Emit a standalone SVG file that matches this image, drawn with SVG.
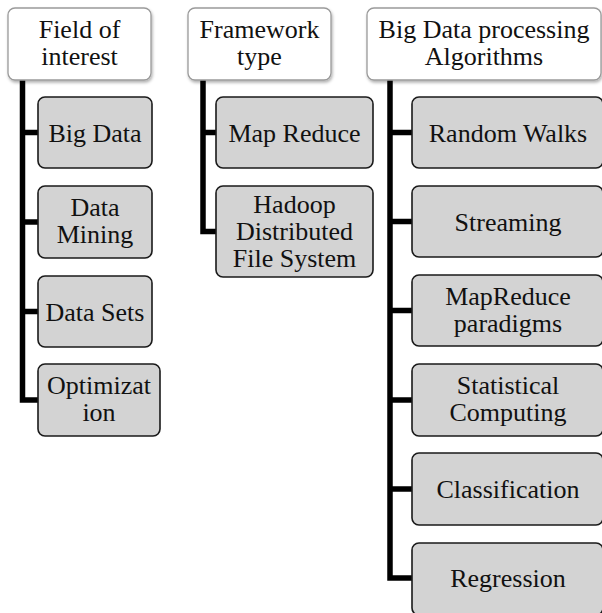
<svg xmlns="http://www.w3.org/2000/svg" width="602" height="613" viewBox="0 0 602 613">
  <style>
    .hdr { fill: #ffffff; stroke: #9a9a9a; stroke-width: 1.3; filter: url(#sh); }
    .box { fill: #d3d3d3; stroke: #1a1a1a; stroke-width: 1.6; }
    text { font-family: "Liberation Serif", "Times New Roman", serif; font-size: 26px; fill: #111; text-anchor: middle; }
    .conn { fill: none; stroke: #000; stroke-width: 5.5; stroke-linejoin: miter; stroke-linecap: butt; }
  </style>
  <defs>
    <filter id="sh" x="-10%" y="-10%" width="125%" height="135%">
      <feDropShadow dx="1" dy="2" stdDeviation="1.5" flood-color="#000" flood-opacity="0.3"/>
    </filter>
  </defs>
  <rect width="602" height="613" fill="#ffffff"/>

  <g id="connectors">
    <path class="conn" d="M22.5 80 V400 H38"/>
    <path class="conn" d="M22.5 132.5 H38 M22.5 222 H38 M22.5 311.5 H38"/>
    <path class="conn" d="M203 80 V231.5 H216"/>
    <path class="conn" d="M203 132.5 H216"/>
    <path class="conn" d="M390 80 V578 H412"/>
    <path class="conn" d="M390 132.5 H412 M390 221.5 H412 M390 310.5 H412 M390 400 H412 M390 489 H412"/>
  </g>

  <g id="h1">
    <rect class="hdr" x="8" y="8" width="143" height="72" rx="7"/>
    <text x="79.5" y="38">Field of</text>
    <text x="79.5" y="65">interest</text>
  </g>
  <g id="h2">
    <rect class="hdr" x="188" y="8" width="143" height="72" rx="7"/>
    <text x="259.5" y="38">Framework</text>
    <text x="259.5" y="65">type</text>
  </g>
  <g id="h3">
    <rect class="hdr" x="367" y="8" width="234" height="72" rx="7"/>
    <text x="484" y="38">Big Data processing</text>
    <text x="484" y="65">Algorithms</text>
  </g>

  <g id="bigdata">
    <rect class="box" x="38" y="97" width="114" height="71" rx="7"/>
    <text x="95" y="141.5">Big Data</text>
  </g>
  <g id="datamining">
    <rect class="box" x="38" y="186" width="114" height="72" rx="7"/>
    <text x="95" y="216">Data</text>
    <text x="95" y="243">Mining</text>
  </g>
  <g id="datasets">
    <rect class="box" x="38" y="276" width="114" height="71" rx="7"/>
    <text x="95" y="320.5">Data Sets</text>
  </g>
  <g id="optimization">
    <rect class="box" x="38" y="364" width="122" height="72" rx="7"/>
    <text x="99" y="394">Optimizat</text>
    <text x="99" y="421">ion</text>
  </g>

  <g id="mapreduce">
    <rect class="box" x="216" y="97" width="157" height="71" rx="7"/>
    <text x="294.5" y="141.5">Map Reduce</text>
  </g>
  <g id="hdfs">
    <rect class="box" x="216" y="186" width="157" height="91" rx="7"/>
    <text x="294.5" y="213">Hadoop</text>
    <text x="294.5" y="240">Distributed</text>
    <text x="294.5" y="267">File System</text>
  </g>

  <g id="randomwalks">
    <rect class="box" x="412" y="97" width="191" height="71" rx="7"/>
    <text x="508" y="141.5">Random Walks</text>
  </g>
  <g id="streaming">
    <rect class="box" x="412" y="186" width="191" height="71" rx="7"/>
    <text x="508" y="230.5">Streaming</text>
  </g>
  <g id="mapreduceparadigms">
    <rect class="box" x="412" y="275" width="191" height="71" rx="7"/>
    <text x="508" y="305">MapReduce</text>
    <text x="508" y="332">paradigms</text>
  </g>
  <g id="statcomputing">
    <rect class="box" x="412" y="364" width="191" height="72" rx="7"/>
    <text x="508" y="394">Statistical</text>
    <text x="508" y="421">Computing</text>
  </g>
  <g id="classification">
    <rect class="box" x="412" y="453" width="191" height="72" rx="7"/>
    <text x="508" y="498">Classification</text>
  </g>
  <g id="regression">
    <rect class="box" x="412" y="543" width="191" height="72" rx="7"/>
    <text x="508" y="587">Regression</text>
  </g>
</svg>
